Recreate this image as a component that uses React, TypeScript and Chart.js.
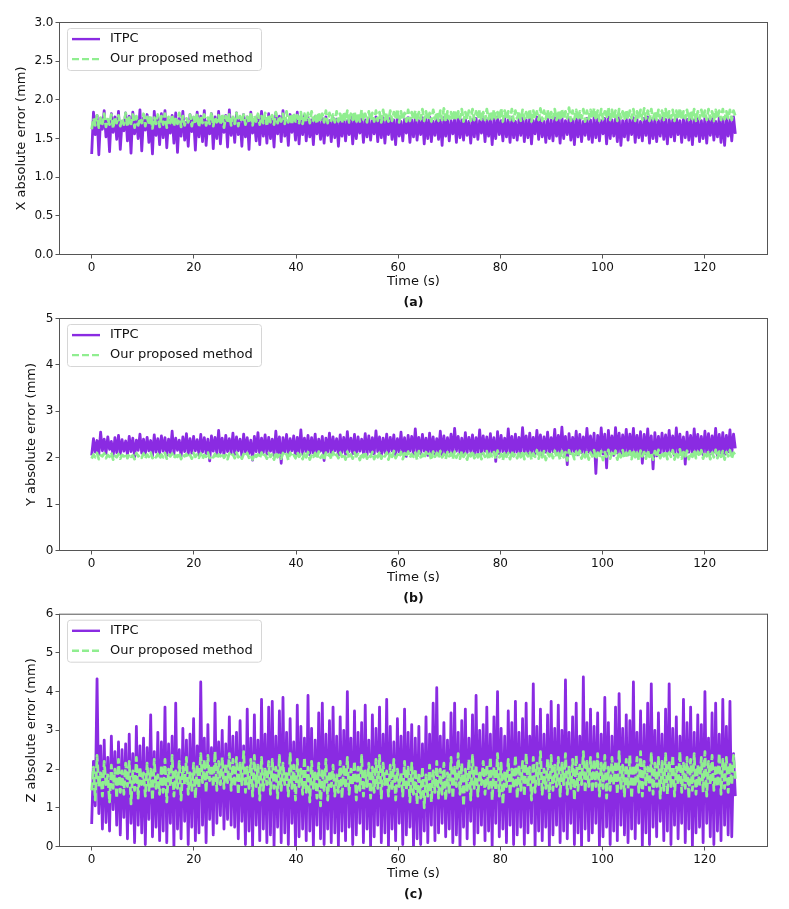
import React, { useEffect, useRef } from 'react';
import { Chart, registerables } from 'chart.js';

Chart.register(...registerables);

// ---------------- data ----------------
const TIME_STEP = 0.35; // seconds between samples (0 .. 126 s)
const X_TICKS = [0, 20, 40, 60, 80, 100, 120];
const X_AXIS_TICKS = [0, 0.5, 1, 1.5, 2, 2.5, 3];
const Y_AXIS_TICKS = [0, 1, 2, 3, 4, 5];
const Z_AXIS_TICKS = [0, 1, 2, 3, 4, 5, 6];
const SERIES_NAMES = ['ITPC', 'Our proposed method'];

const X_ITPC = [
  1.30,1.84,1.55,1.80,1.29,1.76,1.62,1.86,1.52,1.74,1.33,1.82,1.58,1.78,1.49,1.85,1.36,1.72,1.60,1.83,
  1.47,1.79,1.31,1.84,1.56,1.75,1.50,1.87,1.34,1.77,1.61,1.81,1.45,1.73,1.30,1.85,1.54,1.78,1.42,1.82,
  1.51,1.86,1.38,1.74,1.57,1.80,1.44,1.83,1.32,1.76,1.53,1.85,1.48,1.71,1.40,1.81,1.59,1.77,1.35,1.84,
  1.52,1.79,1.46,1.86,1.41,1.73,1.56,1.82,1.37,1.78,1.50,1.85,1.43,1.75,1.58,1.80,1.39,1.87,1.54,1.76,
  1.45,1.83,1.55,1.74,1.40,1.81,1.52,1.78,1.36,1.84,1.57,1.72,1.47,1.80,1.42,1.85,1.53,1.77,1.44,1.82,
  1.50,1.75,1.39,1.83,1.56,1.79,1.46,1.86,1.53,1.73,1.41,1.81,1.58,1.76,1.48,1.84,1.43,1.78,1.55,1.80,
  1.47,1.77,1.52,1.74,1.42,1.79,1.56,1.72,1.49,1.76,1.44,1.78,1.54,1.73,1.46,1.77,1.51,1.75,1.40,1.74,
  1.53,1.76,1.47,1.73,1.55,1.78,1.43,1.75,1.50,1.72,1.57,1.77,1.45,1.74,1.52,1.76,1.48,1.73,1.56,1.78,
  1.46,1.75,1.51,1.77,1.44,1.73,1.55,1.76,1.49,1.74,1.42,1.78,1.53,1.72,1.47,1.75,1.57,1.77,1.45,1.74,
  1.52,1.76,1.48,1.73,1.55,1.77,1.43,1.75,1.50,1.78,1.46,1.72,1.54,1.76,1.49,1.74,1.41,1.77,1.53,1.75,
  1.47,1.73,1.56,1.76,1.45,1.78,1.51,1.74,1.48,1.77,1.54,1.72,1.44,1.75,1.52,1.76,1.49,1.73,1.57,1.77,
  1.46,1.74,1.53,1.76,1.42,1.75,1.50,1.78,1.55,1.73,1.47,1.76,1.52,1.74,1.45,1.77,1.51,1.72,1.48,1.75,
  1.54,1.77,1.46,1.74,1.51,1.76,1.43,1.73,1.56,1.78,1.49,1.75,1.52,1.72,1.45,1.76,1.50,1.74,1.47,1.77,
  1.53,1.75,1.44,1.78,1.50,1.73,1.55,1.76,1.48,1.74,1.42,1.77,1.52,1.75,1.46,1.72,1.54,1.76,1.49,1.74,
  1.45,1.77,1.51,1.75,1.47,1.73,1.56,1.76,1.43,1.78,1.50,1.74,1.53,1.75,1.46,1.77,1.41,1.73,1.52,1.76,
  1.48,1.74,1.55,1.77,1.45,1.75,1.51,1.72,1.47,1.76,1.54,1.78,1.44,1.74,1.50,1.76,1.46,1.73,1.53,1.77,
  1.49,1.75,1.43,1.76,1.52,1.74,1.47,1.78,1.55,1.73,1.45,1.76,1.51,1.75,1.48,1.77,1.42,1.74,1.53,1.76,
  1.46,1.73,1.50,1.77,1.44,1.75,1.54,1.76,1.48,1.72,1.52,1.77,1.45,1.75,1.41,1.76,1.53,1.74,1.47,1.78,
  1.56,
];

const X_OURS = [
  1.62,1.76,1.67,1.80,1.64,1.77,1.69,1.82,1.65,1.75,1.68,1.81,1.63,1.78,1.70,1.80,1.66,1.76,1.68,1.83,
  1.65,1.77,1.69,1.81,1.64,1.79,1.67,1.76,1.70,1.82,1.66,1.78,1.68,1.80,1.63,1.77,1.69,1.81,1.65,1.79,
  1.68,1.82,1.64,1.78,1.70,1.80,1.66,1.77,1.69,1.83,1.65,1.79,1.67,1.76,1.71,1.81,1.66,1.78,1.69,1.82,
  1.65,1.79,1.70,1.81,1.67,1.77,1.69,1.84,1.66,1.78,1.71,1.80,1.68,1.82,1.64,1.79,1.70,1.81,1.67,1.78,
  1.69,1.83,1.66,1.79,1.71,1.81,1.68,1.78,1.70,1.84,1.67,1.80,1.72,1.82,1.68,1.79,1.70,1.83,1.66,1.81,
  1.71,1.80,1.68,1.84,1.70,1.79,1.72,1.82,1.69,1.85,1.71,1.81,1.68,1.83,1.72,1.80,1.70,1.84,1.69,1.82,
  1.72,1.83,1.70,1.85,1.73,1.81,1.69,1.84,1.72,1.82,1.71,1.86,1.70,1.83,1.73,1.81,1.71,1.85,1.72,1.82,
  1.70,1.84,1.73,1.86,1.71,1.82,1.74,1.85,1.70,1.83,1.72,1.87,1.73,1.82,1.71,1.85,1.74,1.83,1.72,1.86,
  1.73,1.84,1.71,1.87,1.74,1.83,1.72,1.86,1.73,1.84,1.75,1.88,1.71,1.85,1.74,1.83,1.72,1.87,1.73,1.84,
  1.74,1.86,1.72,1.84,1.75,1.88,1.73,1.85,1.74,1.83,1.72,1.87,1.75,1.84,1.73,1.86,1.74,1.89,1.72,1.85,
  1.75,1.84,1.73,1.87,1.74,1.85,1.76,1.88,1.72,1.84,1.75,1.86,1.73,1.88,1.74,1.85,1.76,1.87,1.73,1.84,
  1.74,1.88,1.75,1.85,1.73,1.87,1.76,1.84,1.74,1.89,1.72,1.86,1.75,1.85,1.74,1.88,1.73,1.86,1.76,1.85,
  1.73,1.87,1.75,1.84,1.74,1.88,1.72,1.86,1.76,1.85,1.74,1.89,1.73,1.86,1.75,1.87,1.74,1.84,1.76,1.88,
  1.74,1.86,1.73,1.88,1.75,1.85,1.76,1.90,1.73,1.86,1.75,1.87,1.74,1.85,1.76,1.88,1.72,1.86,1.75,1.87,
  1.76,1.89,1.74,1.86,1.73,1.88,1.75,1.85,1.76,1.90,1.74,1.87,1.75,1.86,1.73,1.88,1.76,1.85,1.74,1.87,
  1.75,1.86,1.76,1.88,1.73,1.85,1.75,1.87,1.74,1.89,1.76,1.86,1.73,1.88,1.75,1.85,1.74,1.87,1.76,1.86,
  1.74,1.88,1.75,1.85,1.76,1.87,1.73,1.86,1.75,1.89,1.74,1.85,1.76,1.87,1.74,1.86,1.75,1.88,1.73,1.85,
  1.75,1.87,1.76,1.86,1.74,1.88,1.75,1.85,1.73,1.87,1.76,1.86,1.74,1.88,1.75,1.85,1.76,1.87,1.74,1.86,
  1.79,
];

const Y_ITPC = [
  2.05,2.41,2.12,2.37,2.07,2.55,2.15,2.40,2.09,2.45,2.18,2.35,2.03,2.43,2.11,2.48,2.08,2.39,2.14,2.36,
  2.06,2.46,2.13,2.42,2.02,2.38,2.16,2.51,2.10,2.40,2.07,2.44,2.15,2.37,2.04,2.49,2.12,2.41,2.09,2.47,
  2.14,2.43,2.05,2.40,2.11,2.57,2.08,2.42,2.16,2.38,2.03,2.45,2.13,2.52,2.07,2.41,2.10,2.46,2.15,2.39,
  2.06,2.50,2.12,2.43,2.09,2.40,1.93,2.47,2.14,2.44,2.08,2.59,2.11,2.42,2.05,2.48,2.13,2.41,2.10,2.53,
  2.07,2.45,2.15,2.40,2.04,2.51,2.12,2.43,2.09,2.38,1.95,2.46,2.13,2.54,2.06,2.42,2.11,2.49,2.08,2.44,
  2.14,2.40,2.05,2.57,2.10,2.45,1.88,2.43,2.12,2.50,2.07,2.41,2.15,2.47,2.03,2.44,2.11,2.60,2.08,2.42,
  2.13,2.48,2.06,2.43,2.10,2.51,2.04,2.40,2.14,2.46,1.94,2.42,2.12,2.53,2.08,2.45,2.15,2.41,2.05,2.49,
  2.11,2.44,2.07,2.56,2.13,2.42,2.09,2.50,2.05,2.45,2.14,2.40,2.10,2.52,2.06,2.47,2.12,2.43,2.08,2.58,
  2.13,2.45,2.04,2.42,2.11,2.51,2.08,2.44,2.15,2.49,2.06,2.41,2.12,2.55,2.09,2.43,2.03,2.48,2.14,2.46,
  2.07,2.62,2.12,2.44,2.09,2.50,2.14,2.42,2.05,2.53,2.11,2.45,2.08,2.41,2.13,2.57,2.06,2.47,2.10,2.43,
  2.12,2.51,2.07,2.63,2.14,2.46,2.09,2.42,2.04,2.54,2.11,2.44,2.13,2.49,2.06,2.43,2.10,2.60,2.08,2.47,
  2.14,2.45,2.05,2.52,2.12,2.43,1.92,2.56,2.09,2.48,2.13,2.42,2.07,2.62,2.11,2.46,2.04,2.51,2.12,2.44,
  2.08,2.65,2.13,2.47,2.06,2.53,2.11,2.44,2.09,2.59,2.14,2.49,2.05,2.45,2.12,2.55,2.08,2.43,2.13,2.61,
  2.07,2.48,2.10,2.66,2.12,2.46,1.85,2.52,2.09,2.44,2.13,2.57,2.06,2.50,2.11,2.45,2.08,2.63,2.12,2.47,
  2.05,2.53,1.66,2.48,2.11,2.64,2.08,2.51,1.78,2.59,2.12,2.47,2.05,2.65,2.10,2.53,2.07,2.49,2.13,2.61,
  2.06,2.51,2.11,2.63,2.08,2.48,2.12,2.56,1.88,2.50,2.09,2.62,2.07,2.47,1.76,2.54,2.04,2.46,2.10,2.53,
  2.12,2.49,2.08,2.59,2.13,2.47,2.05,2.64,2.11,2.51,2.09,2.45,1.86,2.55,2.12,2.48,2.07,2.62,2.10,2.50,
  2.13,2.46,2.06,2.57,2.11,2.52,2.08,2.47,2.12,2.63,2.05,2.50,2.10,2.54,2.07,2.48,2.13,2.60,2.09,2.51,
  2.20,
];

const Y_OURS = [
  1.98,2.07,2.01,2.10,1.97,2.05,2.03,2.09,1.99,2.06,2.02,2.11,1.96,2.04,2.01,2.08,1.98,2.06,2.03,2.09,
  1.99,2.08,2.02,2.05,1.97,2.10,2.03,2.06,2.00,2.09,1.98,2.07,2.02,2.11,1.99,2.05,2.01,2.08,1.97,2.07,
  2.01,2.10,1.98,2.06,2.03,2.09,1.99,2.05,2.02,2.11,1.97,2.07,2.03,2.08,2.00,2.06,1.98,2.10,2.02,2.07,
  2.00,2.09,1.97,2.06,2.02,2.11,1.99,2.05,2.01,2.08,1.98,2.07,2.03,2.10,2.00,2.06,1.97,2.09,2.02,2.07,
  1.99,2.11,2.01,2.06,1.98,2.08,2.03,2.10,2.00,2.05,1.96,2.09,2.02,2.07,1.99,2.11,2.01,2.06,1.98,2.10,
  2.02,2.07,1.96,2.12,2.01,2.06,1.98,2.10,2.03,2.08,1.95,2.11,2.02,2.06,1.99,2.12,2.02,2.07,1.97,2.09,
  2.01,2.12,1.96,2.07,2.02,2.10,1.98,2.13,2.00,2.06,1.95,2.11,2.03,2.08,1.97,2.12,2.01,2.07,1.99,2.11,
  2.02,2.09,1.96,2.13,2.00,2.07,1.98,2.11,2.03,2.08,1.95,2.10,2.01,2.13,1.98,2.07,2.02,2.12,1.97,2.09,
  2.01,2.13,1.98,2.08,2.03,2.11,1.96,2.09,2.02,2.14,1.99,2.07,2.01,2.12,1.97,2.10,2.03,2.13,2.00,2.08,
  2.02,2.11,1.96,2.14,2.01,2.08,1.98,2.12,2.03,2.09,1.95,2.13,2.02,2.10,1.99,2.14,2.01,2.08,1.97,2.12,
  2.03,2.10,1.97,2.13,2.00,2.08,1.98,2.14,2.02,2.09,1.96,2.12,2.03,2.15,1.99,2.09,2.01,2.13,1.97,2.10,
  2.02,2.14,1.96,2.09,2.03,2.12,1.98,2.15,2.01,2.08,1.95,2.13,2.02,2.10,1.97,2.14,2.03,2.09,1.99,2.12,
  2.01,2.15,1.97,2.10,2.03,2.13,1.96,2.09,2.02,2.16,1.98,2.11,2.01,2.14,1.95,2.10,2.03,2.13,1.99,2.15,
  2.02,2.10,1.96,2.14,2.01,2.12,1.94,2.16,2.03,2.09,1.97,2.13,2.02,2.15,1.98,2.10,2.01,2.14,1.96,2.11,
  2.03,2.16,1.97,2.11,2.01,2.14,1.95,2.12,2.02,2.17,1.98,2.10,2.03,2.15,1.96,2.12,2.01,2.16,1.99,2.11,
  2.02,2.14,1.97,2.17,2.01,2.11,1.95,2.15,2.03,2.12,1.98,2.16,2.02,2.10,1.96,2.14,2.01,2.17,1.99,2.12,
  2.03,2.15,1.97,2.11,2.02,2.16,1.96,2.13,2.01,2.18,1.98,2.12,2.03,2.15,1.97,2.11,2.02,2.16,1.99,2.13,
  2.02,2.16,1.98,2.12,2.03,2.15,1.97,2.11,2.01,2.17,1.99,2.13,2.02,2.14,1.96,2.12,2.03,2.16,1.98,2.11,
  2.05,
];

const Z_ITPC = [
  0.58,2.20,1.05,4.33,0.85,2.60,0.45,2.75,0.62,2.30,0.40,2.85,0.95,2.45,0.55,2.70,0.30,2.50,0.75,2.65,
  0.20,2.90,0.60,2.40,0.10,3.10,0.55,2.60,0.35,2.80,0.05,2.55,0.70,3.40,0.25,2.45,0.50,2.95,0.15,2.70,
  0.40,3.60,0.10,2.65,0.60,2.85,0.00,3.70,0.45,2.50,0.20,3.05,0.65,2.75,0.05,2.90,0.50,3.30,0.15,2.60,
  0.35,4.25,0.55,2.80,0.10,3.15,0.70,2.55,0.30,3.70,0.60,2.70,0.80,3.00,0.45,2.65,0.70,3.35,0.55,2.85,
  0.50,2.95,0.20,3.25,0.65,2.60,0.05,3.55,0.40,2.80,0.00,3.40,0.55,2.75,0.15,3.80,0.45,2.90,0.10,3.60,
  0.30,3.75,0.00,2.85,0.50,3.50,0.10,3.85,0.35,2.95,0.05,3.30,0.60,2.70,0.00,3.65,0.25,3.10,0.45,2.80,
  0.15,3.90,0.40,3.05,0.00,2.75,0.55,3.45,0.20,3.70,0.05,2.90,0.45,3.25,0.10,3.60,0.35,2.85,0.00,3.35,
  0.40,3.00,0.15,4.00,0.50,2.80,0.05,3.50,0.30,2.95,0.60,3.20,0.10,3.65,0.45,2.75,0.00,3.40,0.25,3.05,
  0.55,3.60,0.10,2.90,0.35,3.80,0.00,3.10,0.45,2.70,0.15,3.30,0.60,2.85,0.05,3.55,0.30,2.95,0.50,3.15,
  0.00,2.80,0.20,3.10,0.05,2.65,0.40,3.35,0.10,2.90,0.55,3.70,0.15,4.10,0.35,2.85,0.60,3.20,0.25,2.75,
  0.45,3.45,0.10,3.70,0.30,2.95,0.00,3.25,0.50,3.55,0.20,2.80,0.65,3.40,0.05,3.90,0.35,3.00,0.55,3.15,
  0.15,3.60,0.40,2.90,0.00,3.35,0.60,4.00,0.25,3.05,0.45,2.85,0.10,3.50,0.55,3.20,0.05,3.75,0.30,2.95,
  0.50,3.30,0.05,3.70,0.35,2.85,0.60,4.20,0.00,3.10,0.40,3.55,0.15,2.90,0.50,3.40,0.00,3.75,0.30,3.05,
  0.55,3.65,0.10,3.00,0.40,4.30,0.20,2.95,0.60,3.35,0.05,3.70,0.35,2.85,0.00,4.38,0.45,3.20,0.15,3.55,
  0.35,3.10,0.60,3.45,0.00,2.90,0.25,3.85,0.50,3.20,0.05,2.85,0.40,3.60,0.15,3.95,0.55,3.05,0.30,3.40,
  0.10,3.25,0.45,4.25,0.20,2.95,0.60,3.50,0.00,3.15,0.35,3.70,0.05,4.20,0.50,3.00,0.25,3.45,0.65,2.90,
  0.15,3.55,0.40,4.20,0.05,3.05,0.55,3.35,0.20,2.85,0.60,3.80,0.10,3.20,0.45,3.60,0.00,2.95,0.35,3.40,
  0.50,3.15,0.10,4.00,0.60,2.80,0.25,3.45,0.05,3.70,0.40,2.90,0.15,3.80,0.55,3.10,0.30,3.75,0.25,2.40,
  1.30,
];

const Z_OURS = [
  1.45,2.05,1.20,2.35,1.55,1.90,1.30,2.20,1.60,1.85,1.15,2.10,1.50,2.00,1.25,2.25,1.40,1.95,1.35,2.15,
  1.55,2.20,1.10,1.95,1.45,2.30,1.25,2.05,1.60,1.90,1.30,2.15,1.45,2.00,1.20,2.25,1.50,1.85,1.35,2.10,
  1.40,2.25,1.15,2.00,1.55,2.35,1.30,1.95,1.50,2.20,1.20,2.05,1.60,2.30,1.35,1.90,1.45,2.15,1.25,2.10,
  1.50,2.40,1.65,2.25,1.40,2.35,1.70,2.10,1.55,2.45,1.45,2.20,1.60,2.30,1.50,2.15,1.65,2.40,1.45,2.25,
  1.55,2.30,1.35,2.15,1.60,2.45,1.40,2.05,1.50,2.25,1.30,2.35,1.55,2.10,1.20,2.30,1.45,2.00,1.60,2.20,
  1.35,2.25,1.50,2.05,1.25,2.35,1.45,2.15,1.60,1.95,1.30,2.40,1.50,2.10,1.20,2.25,1.55,2.00,1.35,2.30,
  1.40,2.05,1.15,2.20,1.50,1.90,1.25,2.15,1.05,2.00,1.45,2.25,1.20,1.95,1.55,2.10,1.30,1.85,1.40,2.20,
  1.25,2.10,1.50,2.30,1.35,2.00,1.60,2.20,1.20,2.05,1.45,2.35,1.30,1.95,1.55,2.15,1.25,2.05,1.40,2.25,
  1.50,2.35,1.25,2.15,1.60,1.95,1.30,2.10,1.45,2.25,1.20,2.00,1.55,1.90,1.30,2.20,1.45,2.05,1.15,2.15,
  1.35,2.00,1.10,1.90,1.25,2.05,1.00,1.85,1.30,2.10,1.15,1.95,1.40,2.20,1.25,2.00,1.35,2.15,1.20,1.90,
  1.40,2.30,1.25,2.05,1.55,2.40,1.35,2.15,1.05,2.00,1.45,2.25,1.20,2.35,1.50,2.10,1.30,1.95,1.60,2.20,
  1.35,2.10,1.50,2.30,1.20,2.05,1.45,2.40,1.30,2.15,1.10,1.95,1.55,2.25,1.35,2.00,1.50,2.35,1.25,2.10,
  1.45,2.20,1.30,2.40,1.55,2.05,1.20,2.30,1.40,2.15,1.60,2.45,1.35,2.00,1.50,2.25,1.25,2.35,1.45,2.10,
  1.55,2.30,1.30,2.15,1.60,2.40,1.35,2.05,1.50,2.25,1.20,2.35,1.45,2.10,1.60,2.45,1.40,2.20,1.55,2.30,
  1.40,2.25,1.55,2.40,1.30,2.15,1.50,2.35,1.25,2.05,1.45,2.30,1.60,2.20,1.35,2.45,1.50,2.10,1.30,2.25,
  1.50,2.35,1.25,2.10,1.55,2.30,1.40,2.45,1.30,2.20,1.60,2.05,1.45,2.40,1.35,2.15,1.55,2.30,1.25,2.20,
  1.45,2.40,1.35,2.20,1.55,2.35,1.30,2.05,1.60,2.45,1.40,2.15,1.50,2.30,1.25,2.25,1.45,2.40,1.35,2.10,
  1.55,2.30,1.40,2.45,1.30,2.20,1.60,2.35,1.45,2.10,1.55,2.40,1.35,2.25,1.50,2.30,1.40,2.15,1.60,2.35,
  1.75,
];

// ---------------- style / layout ----------------
const PAGE_W = 789;
const PAGE_H = 909;
const PLOT_LEFT = 59.5;
const PLOT_RIGHT = 767.5;
const X_MIN = -6.3;
const X_MAX = 132.3;
const PURPLE = '#8a2be2';
const GREEN = '#90ee90';
const SPINE = '#555555';
const FONT = '"DejaVu Sans", Verdana, sans-serif';
const LINE_W = 2.8;

type Panel = {
  top: number;
  height: number;
  plotTop: number;
  plotBottom: number;
  yTicks: number[];
  decimals: number;
  yLabel: string;
  yLabelX: number;
  caption: string;
  itpc: number[];
  ours: number[];
};

const PANELS: Panel[] = [
  { top: 0, height: 310, plotTop: 22.5, plotBottom: 254.5, yTicks: X_AXIS_TICKS, decimals: 1,
    yLabel: 'X absolute error (mm)', yLabelX: 22, caption: '(a)', itpc: X_ITPC, ours: X_OURS },
  { top: 305, height: 303, plotTop: 318.5, plotBottom: 550.5, yTicks: Y_AXIS_TICKS, decimals: 0,
    yLabel: 'Y absolute error (mm)', yLabelX: 32, caption: '(b)', itpc: Y_ITPC, ours: Y_OURS },
  { top: 605, height: 304, plotTop: 613.5, plotBottom: 846.5, yTicks: Z_AXIS_TICKS, decimals: 0,
    yLabel: 'Z absolute error (mm)', yLabelX: 32, caption: '(c)', itpc: Z_ITPC, ours: Z_OURS },
];

function toPoints(vals: number[]) {
  return vals.map((y, i) => ({ x: Math.round(i * TIME_STEP * 100) / 100, y }));
}

function PanelChart({ p }: { p: Panel }) {
  const ref = useRef<HTMLCanvasElement>(null);

  useEffect(() => {
    const canvas = ref.current;
    if (!canvas) return;
    const padTop = p.plotTop - p.top;
    const xAxisH = p.top + p.height - p.plotBottom;

    const overlay = {
      id: 'overlay',
      afterDraw(chart: any) {
        const { ctx, chartArea: a } = chart;
        ctx.save();
        ctx.strokeStyle = SPINE;
        ctx.lineWidth = 1;
        ctx.strokeRect(a.left, a.top, a.right - a.left, a.bottom - a.top);

        // legend
        const lx = 67.5, ly = a.top + 6, lw = 194, lh = 42;
        ctx.beginPath();
        if ((ctx as any).roundRect) (ctx as any).roundRect(lx, ly, lw, lh, 3);
        else ctx.rect(lx, ly, lw, lh);
        ctx.fillStyle = 'rgba(255,255,255,0.8)';
        ctx.fill();
        ctx.strokeStyle = '#d6d6d6';
        ctx.lineWidth = 1;
        ctx.stroke();

        const r1 = a.top + 16.6;
        const r2 = a.top + 36.6;
        ctx.lineWidth = 2.4;
        ctx.strokeStyle = PURPLE;
        ctx.setLineDash([]);
        ctx.beginPath();
        ctx.moveTo(72, r1);
        ctx.lineTo(100, r1);
        ctx.stroke();
        ctx.strokeStyle = GREEN;
        ctx.setLineDash([7, 3]);
        ctx.beginPath();
        ctx.moveTo(72, r2);
        ctx.lineTo(100, r2);
        ctx.stroke();
        ctx.setLineDash([]);

        ctx.fillStyle = '#111';
        ctx.font = `13px ${FONT}`;
        ctx.textAlign = 'left';
        ctx.textBaseline = 'middle';
        ctx.fillText(SERIES_NAMES[0], 110, r1);
        ctx.fillText(SERIES_NAMES[1], 110, r2);

        const midX = (a.left + a.right) / 2;
        ctx.textAlign = 'center';
        ctx.fillText('Time (s)', midX, a.bottom + 27.5);
        ctx.font = `bold 12.5px ${FONT}`;
        ctx.fillText(p.caption, midX, a.bottom + 48);

        ctx.font = `13px ${FONT}`;
        ctx.translate(p.yLabelX, (a.top + a.bottom) / 2);
        ctx.rotate(-Math.PI / 2);
        ctx.fillText(p.yLabel, 0, 0);
        ctx.restore();
      },
    };

    const chart = new Chart(canvas, {
      type: 'line',
      data: {
        datasets: [
          {
            label: SERIES_NAMES[0],
            data: toPoints(p.itpc),
            borderColor: PURPLE,
            backgroundColor: PURPLE,
            borderWidth: LINE_W,
            pointRadius: 0,
            tension: 0,
            borderJoinStyle: 'round',
            order: 1,
          },
          {
            label: SERIES_NAMES[1],
            data: toPoints(p.ours),
            borderColor: GREEN,
            backgroundColor: GREEN,
            borderWidth: LINE_W,
            borderDash: [8, 3],
            pointRadius: 0,
            tension: 0,
            borderJoinStyle: 'round',
            order: 0,
          },
        ],
      },
      options: {
        responsive: false,
        animation: false,
        devicePixelRatio: 1,
        events: [],
        layout: { padding: { top: padTop, right: PAGE_W - PLOT_RIGHT, left: 0, bottom: 0 } },
        plugins: { legend: { display: false }, tooltip: { enabled: false } },
        scales: {
          x: {
            type: 'linear',
            min: X_MIN,
            max: X_MAX,
            afterBuildTicks: (s: any) => {
              s.ticks = X_TICKS.map((v) => ({ value: v }));
            },
            afterFit: (s: any) => {
              s.height = xAxisH;
            },
            ticks: {
              autoSkip: false,
              maxRotation: 0,
              padding: 2,
              color: '#111',
              font: { family: FONT, size: 12 },
              callback: (v: any) => String(v),
            },
            grid: { drawOnChartArea: false, drawTicks: true, tickLength: 4, color: SPINE, tickColor: SPINE },
            border: { display: false },
          },
          y: {
            type: 'linear',
            min: p.yTicks[0],
            max: p.yTicks[p.yTicks.length - 1],
            afterBuildTicks: (s: any) => {
              s.ticks = p.yTicks.map((v) => ({ value: v }));
            },
            afterFit: (s: any) => {
              s.width = PLOT_LEFT;
            },
            ticks: {
              autoSkip: false,
              padding: 2,
              color: '#111',
              font: { family: FONT, size: 12 },
              callback: (v: any) => Number(v).toFixed(p.decimals),
            },
            grid: { drawOnChartArea: false, drawTicks: true, tickLength: 4, color: SPINE, tickColor: SPINE },
            border: { display: false },
          },
        },
      },
      plugins: [overlay],
    } as any);

    return () => chart.destroy();
  }, [p]);

  return (
    <canvas
      ref={ref}
      width={PAGE_W}
      height={p.height}
      style={{ position: 'absolute', left: 0, top: p.top, width: PAGE_W, height: p.height, display: 'block' }}
    />
  );
}

export default function App() {
  return (
    <div style={{ position: 'absolute', left: 0, top: 0, width: PAGE_W, height: PAGE_H, background: '#fff' }}>
      {PANELS.map((p) => (
        <PanelChart key={p.caption} p={p} />
      ))}
    </div>
  );
}
